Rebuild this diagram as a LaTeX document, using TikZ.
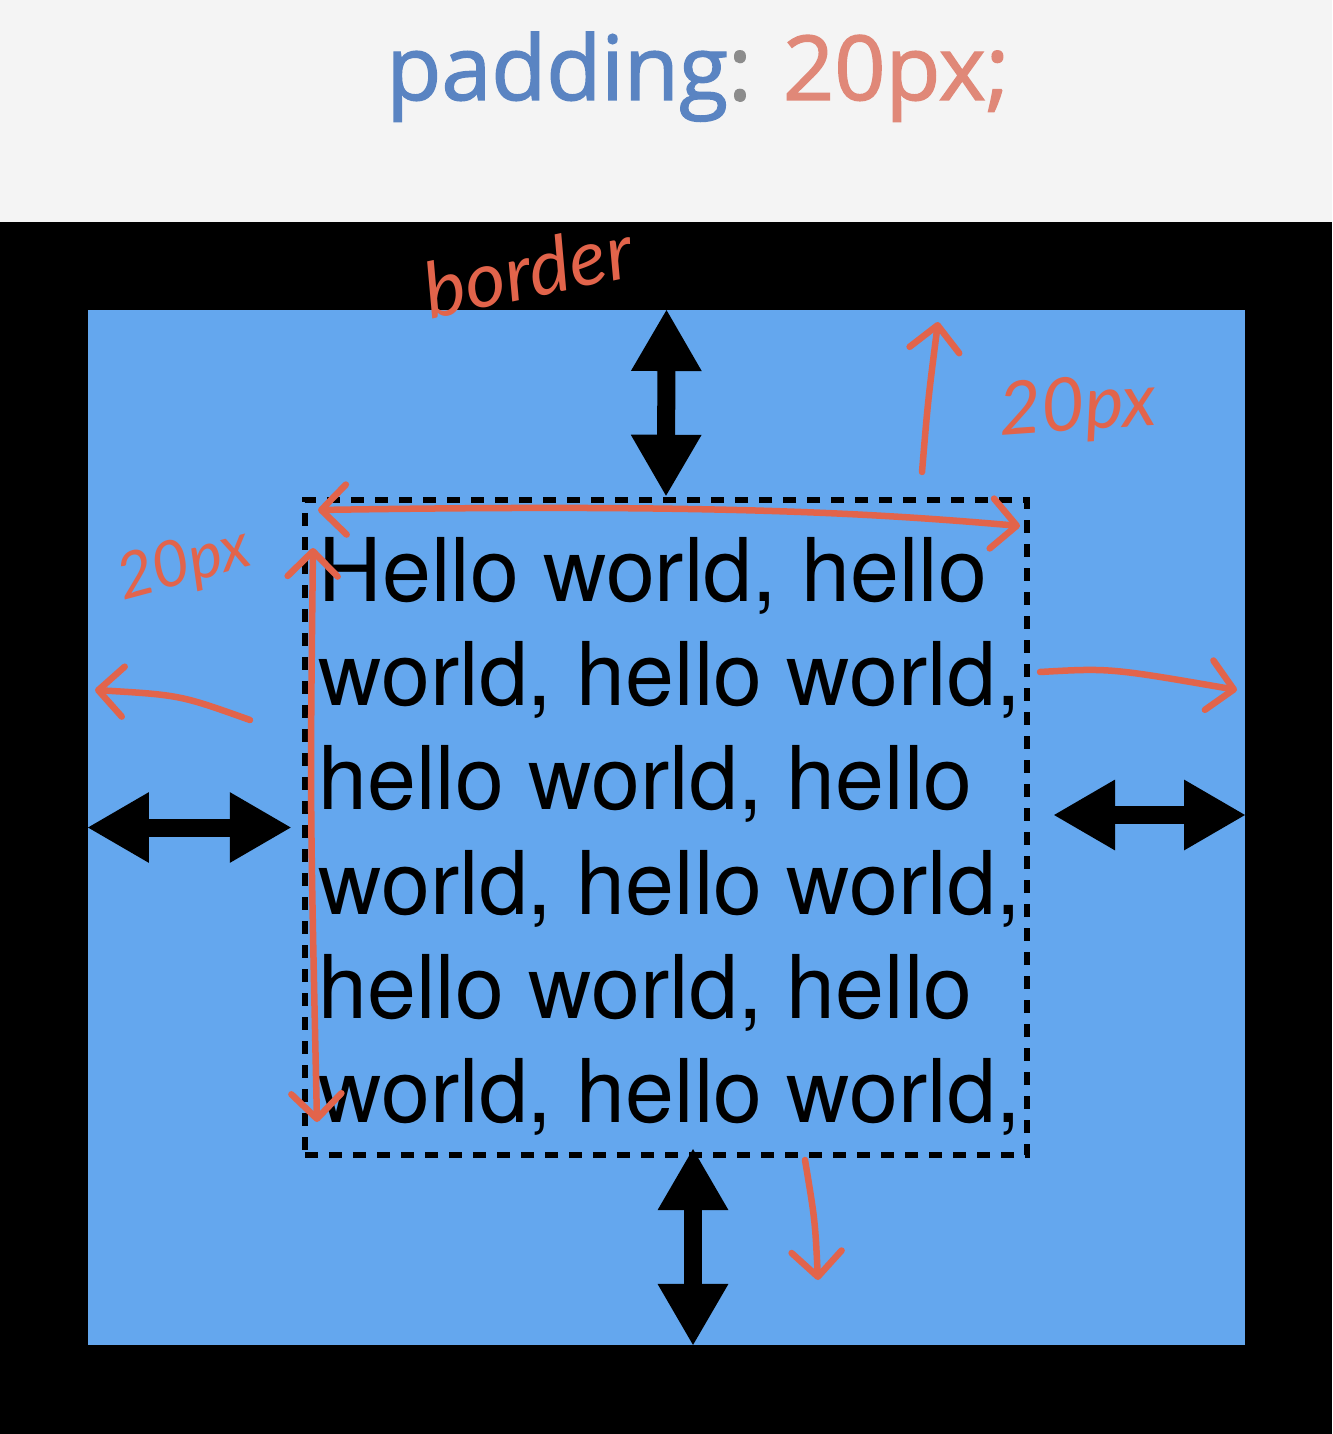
\documentclass[tikz,border=0pt]{standalone}
\usepackage{fontspec}
\usetikzlibrary{arrows.meta,calc}
\definecolor{bggray}{HTML}{F4F4F4}
\definecolor{padblue}{HTML}{64A7EE}
\definecolor{kwblue}{HTML}{5A84C2}
\definecolor{valorange}{HTML}{E08878}
\definecolor{colgray}{HTML}{8C8C8C}
\definecolor{penred}{HTML}{E2644B}
\newfontfamily\titlefont{Open Sans}[FakeBold=1.6]
\newfontfamily\bodyfont{TeX Gyre Heros}
\newfontfamily\handfont{Lato}

\begin{document}
\begin{tikzpicture}[x=0.01cm,y=-0.01cm,
    bigarrow/.style={line width=0.18cm,{Triangle[length=0.62cm,width=0.66cm]}-{Triangle[length=0.62cm,width=0.66cm]}},
    pen/.style={penred,line width=0.065cm,line cap=round,line join=round},
    penarrow/.style={pen,-{Straight Barb[length=0.25cm,width=0.5cm,round]}},
    pentwo/.style={pen,{Straight Barb[length=0.25cm,width=0.5cm,round]}-{Straight Barb[length=0.25cm,width=0.5cm,round]}},
    pennote/.style={text=penred,inner sep=0pt,font=\handfont\itshape\fontsize{22}{22}\selectfont}]
    \useasboundingbox (0,0) rectangle (1332,1434);
    \fill[bggray] (0,0) rectangle (1332,1434);
    \node[anchor=base,inner sep=0pt,font=\titlefont\fontsize{25.5}{25.5}\selectfont] (title) at (698,100)
        {\textcolor{kwblue}{padding}\textcolor{colgray}{:} \textcolor{valorange}{20px;}};
    % border and padding area
    \fill[black] (0,222) rectangle (1332,1434);
    \node[fill=padblue,inner sep=0pt,minimum width=11.57cm,minimum height=10.35cm] (pad) at (666.5,827.5) {};
    \node[draw=black,line width=0.06cm,dash pattern=on 0.13cm off 0.11cm,inner sep=0pt,
        minimum width=7.22cm,minimum height=6.55cm] (content) at (666,827.5) {};
    \node[anchor=north west,inner sep=0pt,align=left,text=black,
        font=\bodyfont\fontsize{25}{29.6}\selectfont] (hello) at (318,537)
        {Hello world, hello\\world, hello world,\\hello world, hello\\world, hello world,\\hello world, hello\\world, hello world,};
    % black arrows
    \coordinate (rightin) at (1053,815);
    \coordinate (bottomin) at (693,1148);
    \draw[bigarrow] (pad.north) -- (content.north);
    \draw[bigarrow] (pad.west) -- ([xshift=-0.1cm]content.west);
    \draw[bigarrow] (rightin) -- (rightin -| pad.east);
    \draw[bigarrow] (bottomin) -- (bottomin |- pad.south);
    % pen notes
    \node[pennote,rotate=12] (bordernote) at (528,270) {border};
    \node[pennote,font=\handfont\itshape\fontsize{21}{21}\selectfont,rotate=4] (rightnote) at (1078,410) {20px};
    \node[pennote,font=\handfont\itshape\fontsize{18}{18}\selectfont,rotate=15] (leftnote) at (184,566) {20px};
    \coordinate (uptail) at (922,472);
    \coordinate (uptip) at (938,322);
    \coordinate (topl) at (318,510);
    \coordinate (topr) at (1020,526);
    \coordinate (sidetop) at (313,548);
    \coordinate (sidebot) at (317,1122);
    \coordinate (lefttail) at (250,720);
    \coordinate (lefttip) at (95,690);
    \coordinate (righttail) at (1040,672);
    \coordinate (righttip) at (1237,690);
    \coordinate (downtail) at (805,1160);
    \coordinate (downtip) at (818,1280);
    \draw[penarrow] (uptail) .. controls (928,400) .. (uptip);
    \draw[pentwo] (topl) .. controls (700,504) and (860,512) .. (topr);
    \draw[pentwo] (sidetop) .. controls (310,800) .. (sidebot);
    \draw[penarrow] (lefttail) .. controls (180,695) .. (lefttip);
    \draw[penarrow] (righttail) .. controls (1110,668) .. (righttip);
    \draw[penarrow] (downtail) .. controls (815,1220) .. (downtip);
\end{tikzpicture}
\end{document}
